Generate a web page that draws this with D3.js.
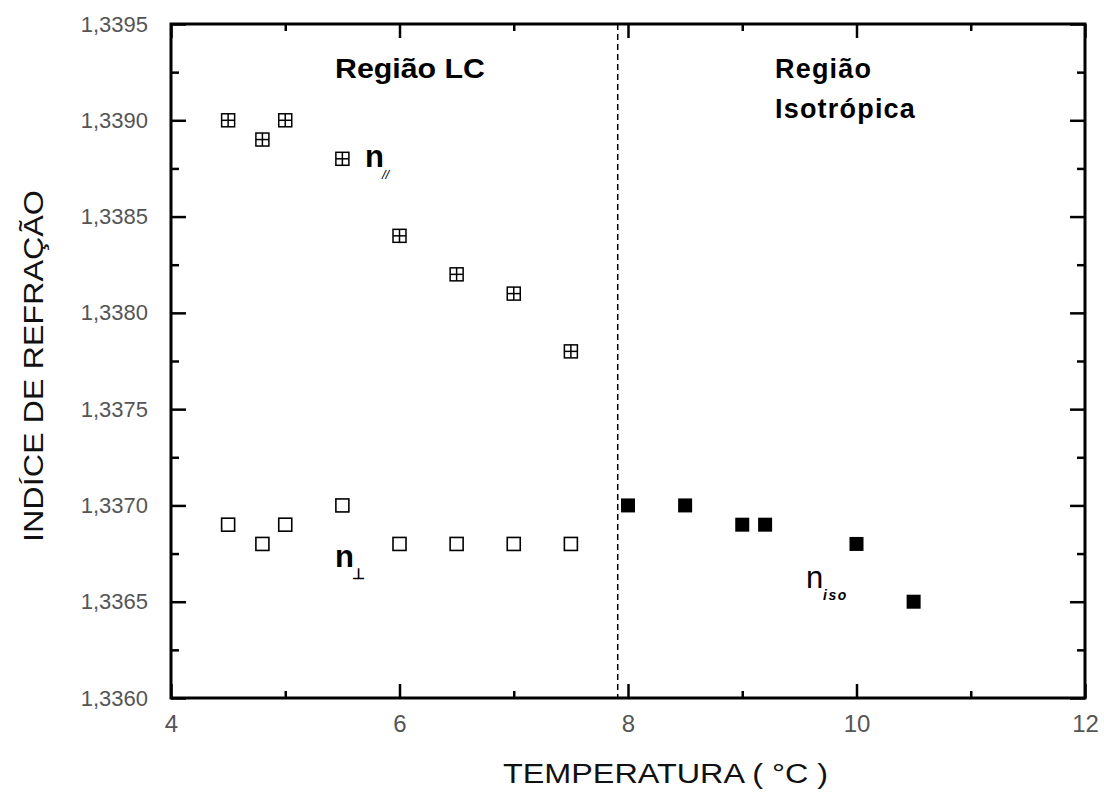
<!DOCTYPE html>
<html><head><meta charset="utf-8">
<script src="https://cdn.jsdelivr.net/npm/d3@7"></script>
<style>body{margin:0;background:#fff}svg{display:block}</style>
</head><body>
<script>
const nParX = [4.5, 4.8, 5.0, 5.5, 6.0, 6.5, 7.0, 7.5];
const nParY = [1.3390, 1.3389, 1.3390, 1.3388, 1.3384, 1.3382, 1.3381, 1.3378];
const nPerpX = [4.5, 4.8, 5.0, 5.5, 6.0, 6.5, 7.0, 7.5];
const nPerpY = [1.3369, 1.3368, 1.3369, 1.3370, 1.3368, 1.3368, 1.3368, 1.3368];
const nIsoX = [8.0, 8.5, 9.0, 9.2, 10.0, 10.5];
const nIsoY = [1.3370, 1.3370, 1.3369, 1.3369, 1.3368, 1.3365];
const xTicks = [4, 6, 8, 10, 12];
const xMinor = [5, 7, 9, 11];
const yTicks = [1.3360, 1.3365, 1.3370, 1.3375, 1.3380, 1.3385, 1.3390, 1.3395];
const yMinor = [1.33625, 1.33675, 1.33725, 1.33775, 1.33825, 1.33875, 1.33925];
const transitionT = 7.91;

const W = 1104, H = 793;
const L = 171, R = 1085, T = 24, B = 698;
const svg = d3.select("body").append("svg").attr("width", W).attr("height", H);
const x = d3.scaleLinear().domain([4, 12]).range([L, R]);
const y = d3.scaleLinear().domain([1.3360, 1.3395]).range([B, T]);
const font = "'Liberation Sans', Arial, sans-serif";
const fmtY = d => d.toFixed(4).replace(".", ",");

function styleAxis(size){
  return g => {
    g.selectAll(".domain").remove();
    g.selectAll("line").attr("stroke", "#000").attr("stroke-width", 2.5);
    g.selectAll("text").attr("font-family", font).attr("font-size", size).attr("fill", "#555");
  };
}
// bottom
svg.append("g").attr("transform", `translate(0,${B})`)
  .call(d3.axisBottom(x).tickValues(xTicks).tickSizeInner(-14).tickSizeOuter(0).tickPadding(17).tickFormat(d3.format("d")))
  .call(styleAxis(24));
svg.append("g").attr("transform", `translate(0,${B})`)
  .call(d3.axisBottom(x).tickValues(xMinor).tickSizeInner(-7).tickSizeOuter(0).tickFormat(""))
  .call(styleAxis(24));
// top
svg.append("g").attr("transform", `translate(0,${T})`)
  .call(d3.axisTop(x).tickValues(xTicks).tickSizeInner(-14).tickSizeOuter(0).tickFormat(""))
  .call(styleAxis(24));
svg.append("g").attr("transform", `translate(0,${T})`)
  .call(d3.axisTop(x).tickValues(xMinor).tickSizeInner(-7).tickSizeOuter(0).tickFormat(""))
  .call(styleAxis(24));
// left
svg.append("g").attr("transform", `translate(${L},0)`)
  .call(d3.axisLeft(y).tickValues(yTicks).tickSizeInner(-15).tickSizeOuter(0).tickPadding(23).tickFormat(fmtY))
  .call(styleAxis(22));
svg.append("g").attr("transform", `translate(${L},0)`)
  .call(d3.axisLeft(y).tickValues(yMinor).tickSizeInner(-8).tickSizeOuter(0).tickFormat(""))
  .call(styleAxis(22));
// right
svg.append("g").attr("transform", `translate(${R},0)`)
  .call(d3.axisRight(y).tickValues(yTicks).tickSizeInner(-15).tickSizeOuter(0).tickFormat(""))
  .call(styleAxis(22));
svg.append("g").attr("transform", `translate(${R},0)`)
  .call(d3.axisRight(y).tickValues(yMinor).tickSizeInner(-8).tickSizeOuter(0).tickFormat(""))
  .call(styleAxis(22));

// frame
svg.append("rect").attr("x", L).attr("y", T).attr("width", R - L).attr("height", B - T)
  .attr("fill", "none").attr("stroke", "#000").attr("stroke-width", 3);

// dashed transition line
svg.append("line").attr("x1", x(transitionT)).attr("x2", x(transitionT)).attr("y1", T).attr("y2", B)
  .attr("stroke", "#000").attr("stroke-width", 1.5).attr("stroke-dasharray", "6,4");

const s = 15;
// n parallel: square with cross
const par = nParX.map((v, i) => [v, nParY[i]]);
const gp = svg.append("g").selectAll("g").data(par).join("g")
  .attr("transform", d => `translate(${x(d[0])},${y(d[1])})`);
gp.append("rect").attr("x", -s/2 + 1).attr("y", -s/2 + 1).attr("width", s - 2).attr("height", s - 2)
  .attr("fill", "#fff").attr("stroke", "#000").attr("stroke-width", 1.5);
gp.append("line").attr("x1", -s/2 + 1).attr("x2", s/2 - 1).attr("y1", 0).attr("y2", 0).attr("stroke", "#000").attr("stroke-width", 1.5);
gp.append("line").attr("y1", -s/2 + 1).attr("y2", s/2 - 1).attr("x1", 0).attr("x2", 0).attr("stroke", "#000").attr("stroke-width", 1.5);

// n perp: open squares
const perp = nPerpX.map((v, i) => [v, nPerpY[i]]);
svg.append("g").selectAll("rect").data(perp).join("rect")
  .attr("x", d => x(d[0]) - s/2 + 1).attr("y", d => y(d[1]) - s/2 + 1).attr("width", s - 2).attr("height", s - 2)
  .attr("fill", "#fff").attr("stroke", "#000").attr("stroke-width", 1.6);

// n iso: filled squares
const iso = nIsoX.map((v, i) => [v, nIsoY[i]]);
svg.append("g").selectAll("rect").data(iso).join("rect")
  .attr("x", d => x(d[0]) - 7).attr("y", d => y(d[1]) - 7).attr("width", 14).attr("height", 14)
  .attr("fill", "#000");

// annotations
function txt(xp, yp, t, size, weight, anchor, style){
  return svg.append("text").attr("x", xp).attr("y", yp).text(t)
    .attr("font-family", font).attr("font-size", size).attr("font-weight", weight || "normal")
    .attr("font-style", style || "normal").attr("text-anchor", anchor || "start").attr("fill", "#000");
}
txt(335, 78, "Região LC", 27, "bold").attr("textLength", 150).attr("lengthAdjust", "spacingAndGlyphs");
txt(775, 78, "Região", 27, "bold").attr("letter-spacing", 1.2);
txt(775, 118, "Isotrópica", 27, "bold").attr("letter-spacing", 1.2);
txt(365, 167, "n", 31, "bold");
txt(382, 179, "//", 13, "normal", "start", "italic");
txt(335, 567, "n", 31, "bold");
txt(352, 579, "⊥", 15, "bold");
txt(806, 588, "n", 31, "normal");
txt(823, 600, "iso", 14, "bold", "start", "italic").attr("letter-spacing", 1.5);

// axis titles
txt(503, 783, "TEMPERATURA ( °C )", 27, "normal", "start").attr("fill", "#111")
  .attr("textLength", 325).attr("lengthAdjust", "spacingAndGlyphs");
svg.append("text").attr("transform", `translate(43,542) rotate(-90)`)
  .attr("text-anchor", "start").attr("font-family", font).attr("font-size", 27).attr("fill", "#111")
  .attr("textLength", 352).attr("lengthAdjust", "spacingAndGlyphs")
  .text("INDÍCE DE REFRAÇÃO");
</script>
</body></html>
